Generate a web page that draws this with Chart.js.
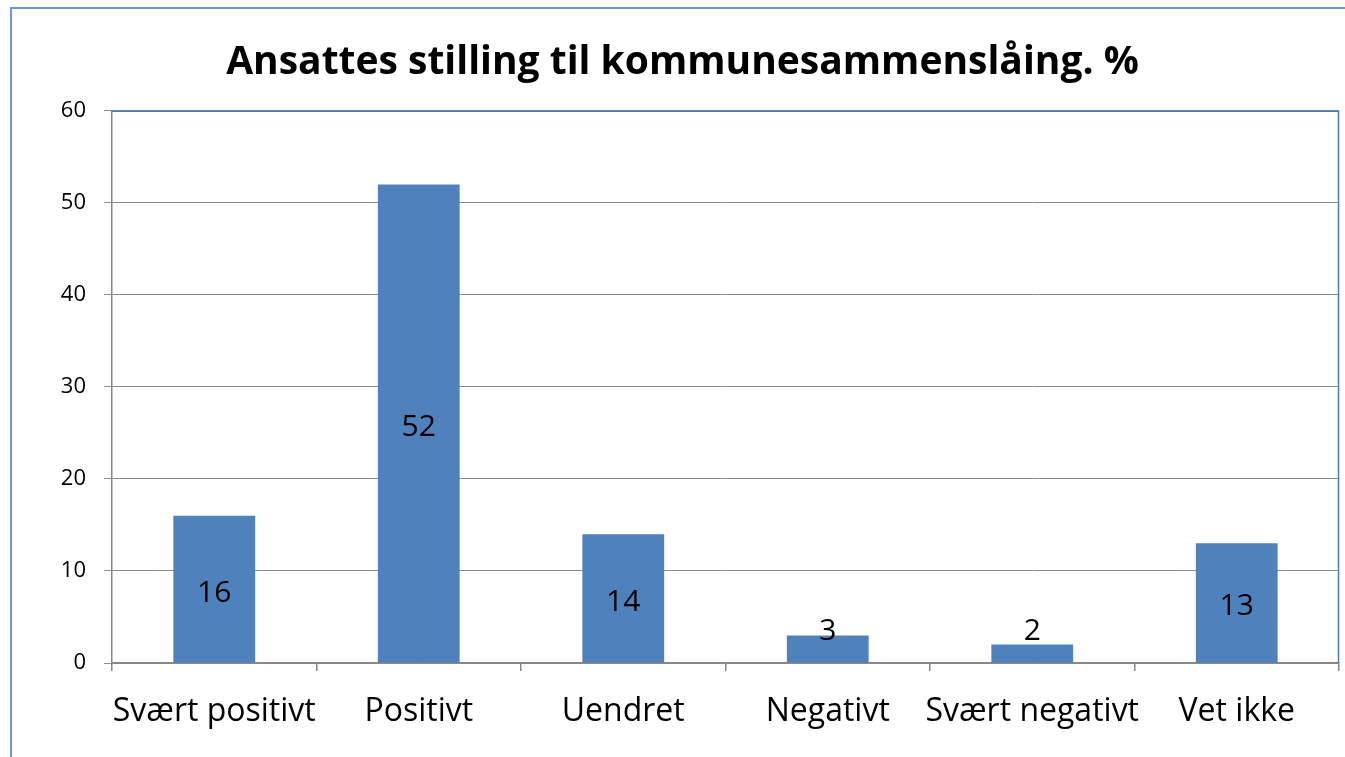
<!DOCTYPE html>
<html>
<head>
<meta charset="utf-8">
<script src="https://cdn.jsdelivr.net/npm/chart.js@4/dist/chart.umd.min.js"></script>
<style>
  html, body { margin: 0; padding: 0; background: #fff; overflow: hidden; }
  #wrap { position: absolute; left: 0; top: 0; width: 1345px; height: 757px; }
  #frame { position: absolute; left: 10px; top: 7px; width: 1400px; height: 800px; border: 2px solid #6a9ad3; box-sizing: border-box; pointer-events: none; }
</style>
</head>
<body>
<div id="wrap">
  <canvas id="barChart" width="1345" height="757"></canvas>
  <div id="frame"></div>
</div>
<script>
var categories = ['Svært positivt', 'Positivt', 'Uendret', 'Negativt', 'Svært negativt', 'Vet ikke'];
var values     = [16, 52, 14, 3, 2, 13];
var yTicks     = [0, 10, 20, 30, 40, 50, 60];

var fontFamily = '"Open Sans", Lato, sans-serif';

// labels inside the bars, like excel "center"
var barLabels = {
    id: 'barLabels',
    afterDatasetsDraw: function(chart) {
        var ctx  = chart.ctx;
        var meta = chart.getDatasetMeta(0);
        ctx.save();
        ctx.fillStyle    = '#000';
        ctx.font         = '30px ' + fontFamily;
        ctx.textAlign    = 'center';
        ctx.textBaseline = 'middle';
        meta.data.forEach(function(bar, i) {
            var y = (bar.y + bar.base) / 2 + 4;
            if (y > bar.base - 31) y = bar.base - 31;
            ctx.fillText(String(values[i]), bar.x, y);
        });
        ctx.restore();
    }
};

// blue top/right edge of the plot area
var plotBorder = {
    id: 'plotBorder',
    beforeDatasetsDraw: function(chart) {
        var a   = chart.chartArea;
        var ctx = chart.ctx;
        ctx.save();
        ctx.strokeStyle = '#4a7ebb';
        ctx.lineWidth   = 1.5;
        ctx.beginPath();
        ctx.moveTo(a.left, a.top + 0.5);
        ctx.lineTo(a.right - 0.5, a.top + 0.5);
        ctx.lineTo(a.right - 0.5, a.bottom);
        ctx.stroke();
        ctx.restore();
    }
};

var canvas = document.getElementById('barChart');
new Chart(canvas.getContext('2d'), {
    type: 'bar',
    data: {
        labels: categories,
        datasets: [{
            data: values,
            backgroundColor: '#4f81bd',
            borderWidth: 0,
            barPercentage: 0.4,
            categoryPercentage: 1.0
        }]
    },
    options: {
        responsive: false,
        animation: false,
        layout: { padding: { left: 26, right: 6, top: 0, bottom: 0 } },
        plugins: {
            legend: { display: false },
            tooltip: { enabled: false },
            title: {
                display: true,
                text: 'Ansattes stilling til kommunesammenslåing. %',
                color: '#000',
                font: { family: fontFamily, size: 39, weight: 'bold', lineHeight: 1.2 },
                padding: { top: 39, bottom: 25 }
            }
        },
        scales: {
            x: {
                grid: {
                    offset: true,
                    drawOnChartArea: false,
                    drawTicks: true,
                    tickLength: 8,
                    color: '#868686',
                    lineWidth: 1.5
                },
                border: { color: '#868686', width: 1.5 },
                ticks: {
                    color: '#000',
                    font: { family: fontFamily, size: 32 },
                    padding: 22,
                    maxRotation: 0,
                    autoSkip: false
                },
                afterFit: function(scale) { scale.height = 94; }
            },
            y: {
                min: 0,
                max: 60,
                afterBuildTicks: function(scale) {
                    scale.ticks = yTicks.map(function(v) { return { value: v }; });
                },
                grid: {
                    color: '#8c8c8c',
                    lineWidth: 1,
                    tickLength: 8
                },
                border: { color: '#868686', width: 1.5 },
                ticks: {
                    color: '#000',
                    font: { family: fontFamily, size: 22 },
                    padding: 18
                },
                afterFit: function(scale) { scale.width = 86; }
            }
        }
    },
    plugins: [plotBorder, barLabels]
});
</script>
</body>
</html>
